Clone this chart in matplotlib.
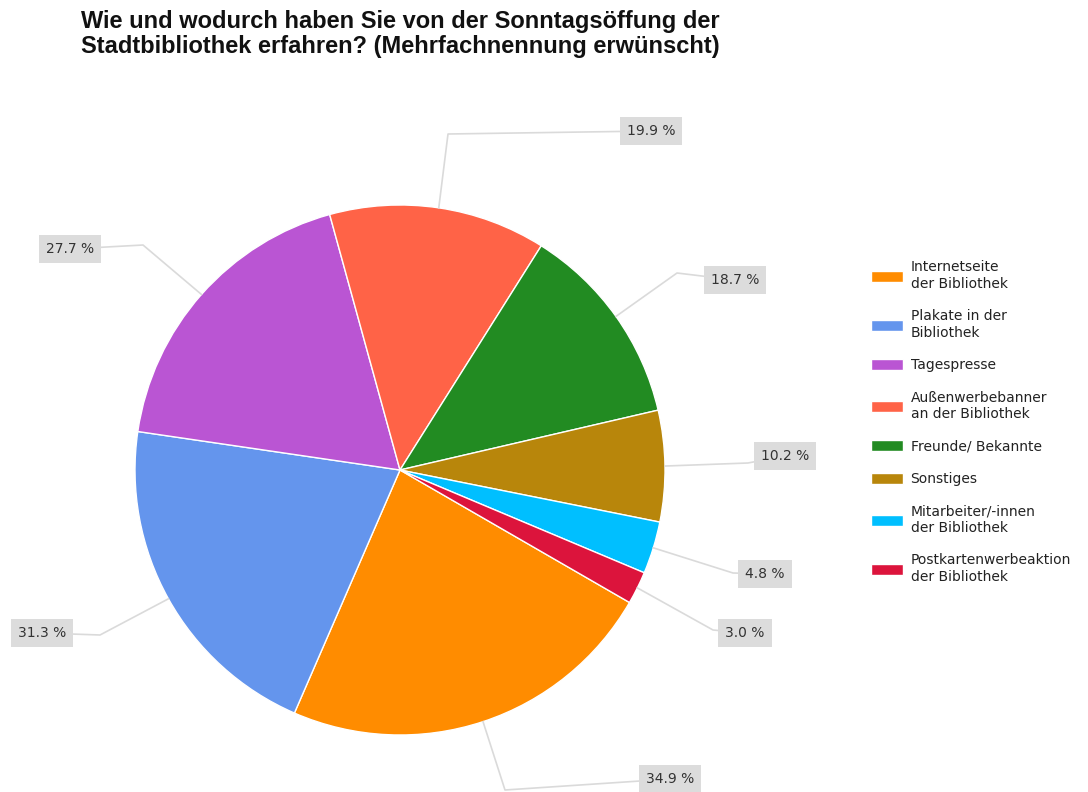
import matplotlib

matplotlib.use("Agg")

import matplotlib.pyplot as plt  # noqa: E402
import numpy as np  # noqa: E402

plt.rcParams["font.family"] = ["Liberation Sans", "DejaVu Sans"]

TITLE = ("Wie und wodurch haben Sie von der Sonntagsöffung der\n"
         "Stadtbibliothek erfahren? (Mehrfachnennung erwünscht)")

categories = [
    "Internetseite\nder Bibliothek",
    "Plakate in der\nBibliothek",
    "Tagespresse",
    "Außenwerbebanner\nan der Bibliothek",
    "Freunde/ Bekannte",
    "Sonstiges",
    "Mitarbeiter/-innen\nder Bibliothek",
    "Postkartenwerbeaktion\nder Bibliothek",
]
percent = [34.9, 31.3, 27.7, 19.9, 18.7, 10.2, 4.8, 3.0]

COLORS = ["#ff8c00", "#6495ed", "#ba55d3", "#ff6347",
          "#228b22", "#b8860b", "#00bfff", "#dc143c"]

# Canvas is laid out in pixels (y up) so the callout boxes can sit where
# the layout wants them.
W, H = 1088, 792
CENTER = (400, H - 470)
RADIUS = 265

# (elbow, label centre) per slice, in pixel coords with y measured downward
CALLOUTS = [
    ((505, 790), (670, 779)),
    ((100, 635), (42, 633)),
    ((143, 245), (70, 249)),
    ((448, 134), (651, 131)),
    ((677, 273), (735, 280)),
    ((748, 463), (785, 456)),
    ((733, 573), (765, 574)),
    ((713, 630), (745, 633)),
]

LEADER = "#dadada"
BOX = "#dcdcdc"
TEXT = "#333333"
SMALL_FONT = ["DejaVu Sans"]

fig = plt.figure(figsize=(W / 100, H / 100), dpi=100)
ax = fig.add_axes([0, 0, 1, 1])

wedges, _ = ax.pie(
    percent,
    colors=COLORS,
    startangle=-30,
    counterclock=False,
    center=CENTER,
    radius=RADIUS,
    wedgeprops=dict(edgecolor="white", linewidth=1),
    frame=True,
)
ax.set_xlim(0, W)
ax.set_ylim(0, H)
ax.set_aspect("equal")
ax.axis("off")

for wedge, value, (elbow, label) in zip(wedges, percent, CALLOUTS):
    mid = np.radians((wedge.theta1 + wedge.theta2) / 2)
    x0 = CENTER[0] + RADIUS * np.cos(mid)
    y0 = CENTER[1] + RADIUS * np.sin(mid)
    ex, ey = elbow[0], H - elbow[1]
    lx, ly = label[0], H - label[1]
    ax.plot([x0, ex, lx], [y0, ey, ly], color=LEADER, lw=1.2, zorder=1)
    ax.text(lx, ly, f"{value:.1f} %", ha="center", va="center",
            fontsize=10, family=SMALL_FONT, color=TEXT, zorder=3,
            bbox=dict(boxstyle="square,pad=0.5", facecolor=BOX,
                      edgecolor="none"))

fig.text(400 / W, 1 - 10 / H, TITLE, ha="center", va="top",
         multialignment="center", fontsize=17, fontweight="bold",
         color="#111111", linespacing=1.12)

leg = fig.legend(
    wedges,
    categories,
    loc="upper left",
    bbox_to_anchor=(871 / W, 1 - 260 / H),
    frameon=False,
    prop=dict(family=SMALL_FONT, size=10),
    handlelength=2.3,
    handleheight=0.85,
    handletextpad=0.55,
    labelspacing=1.32,
    borderpad=0,
    borderaxespad=0,
)
for t in leg.get_texts():
    t.set_linespacing(1.25)
    t.set_color("#222222")

fig.savefig("out.png", dpi=100)
plt.close(fig)
